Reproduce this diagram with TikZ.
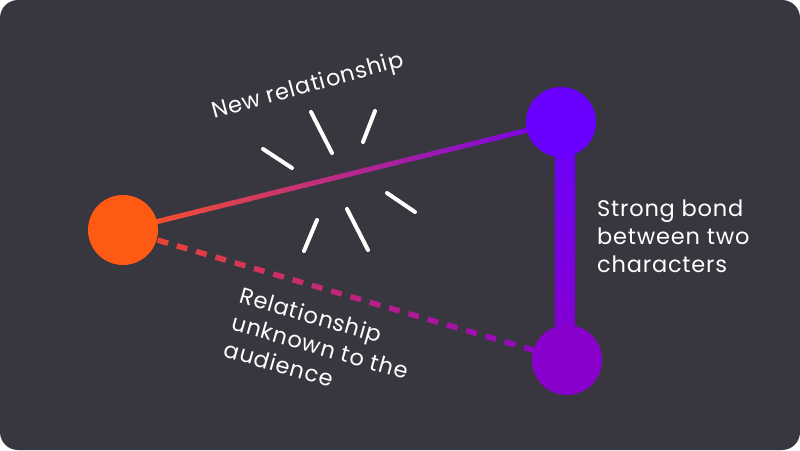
\documentclass[tikz,border=0pt]{standalone}
\usepackage{fontspec}
\setmainfont{Poppins}[LetterSpace=3.5]
\usetikzlibrary{calc}
\definecolor{bg}{HTML}{38363F}
\definecolor{orangec}{HTML}{FF5A14}
\definecolor{topc}{HTML}{6A00FF}
\definecolor{botc}{HTML}{8800CC}
\definecolor{lineA}{HTML}{FF5520}
\definecolor{lineB}{HTML}{7000F0}
\definecolor{dashA}{HTML}{F04A28}
\definecolor{dashB}{HTML}{8A00D0}
\begin{document}
\begin{tikzpicture}[x=1pt,y=-1pt,
  dot/.style={circle, minimum size=70pt, inner sep=0pt, fill=#1},
  spark/.style={white, line width=4pt, line cap=round},
  lbl/.style={text=white, font=\fontsize{22.5}{28}\selectfont, inner sep=0pt, align=left}]
\fill[white] (0,0) rectangle (800,450);
\fill[bg, rounded corners=18pt] (0,0) rectangle (800,450);
\useasboundingbox (0,0) rectangle (800,450);

\coordinate (o) at (123,230);
\coordinate (p) at (561,122);
\coordinate (q) at (567,360);

% solid gradient connector
\foreach \i in {0,...,59}{
  \pgfmathsetmacro\ta{\i/60}
  \pgfmathsetmacro\tb{(\i+1.3)/60}
  \pgfmathsetmacro\mix{100-(\i+0.5)/0.6}
  \draw[line width=5pt, color=lineA!\mix!lineB] ($(o)!\ta!(p)$) -- ($(o)!\tb!(p)$);
}
% dashed gradient connector
\foreach \k in {0,...,19}{
  \pgfmathsetmacro\ta{(36+20.1*\k)/462.6}
  \pgfmathsetmacro\tb{(47+20.1*\k)/462.6}
  \pgfmathsetmacro\mix{100-(41.5+20.1*\k)/4.626}
  \draw[line width=5.5pt, color=dashA!\mix!dashB] ($(o)!\ta!(q)$) -- ($(o)!\tb!(q)$);
}
% strong bond bar
\shade[top color=topc, bottom color=botc] ($(p)+(-6,0)$) rectangle ($(q)+(8,0)$);

\node[dot=orangec] (a) at (o) {};
\node[dot=topc] (b) at (p) {};
\node[dot=botc] (c) at (q) {};

% sparks
\draw[spark] (263,149) -- (292,168);
\draw[spark] (311,112) -- (332,153);
\draw[spark] (375,111) -- (363,142);
\draw[spark] (387,193) -- (415,212);
\draw[spark] (347,209) -- (368,250);
\draw[spark] (317,220) -- (304,251);

\node[lbl, rotate=15.5, anchor=base west] (t1) at (214,119) {New relationship};
\node[lbl, anchor=north west] (t2) at (597,200) {Strong bond\\between two\\characters};
\node[lbl, rotate=-16, anchor=north west] (t3) at (243,286) {Relationship\\unknown to the\\audience};
\end{tikzpicture}
\end{document}
